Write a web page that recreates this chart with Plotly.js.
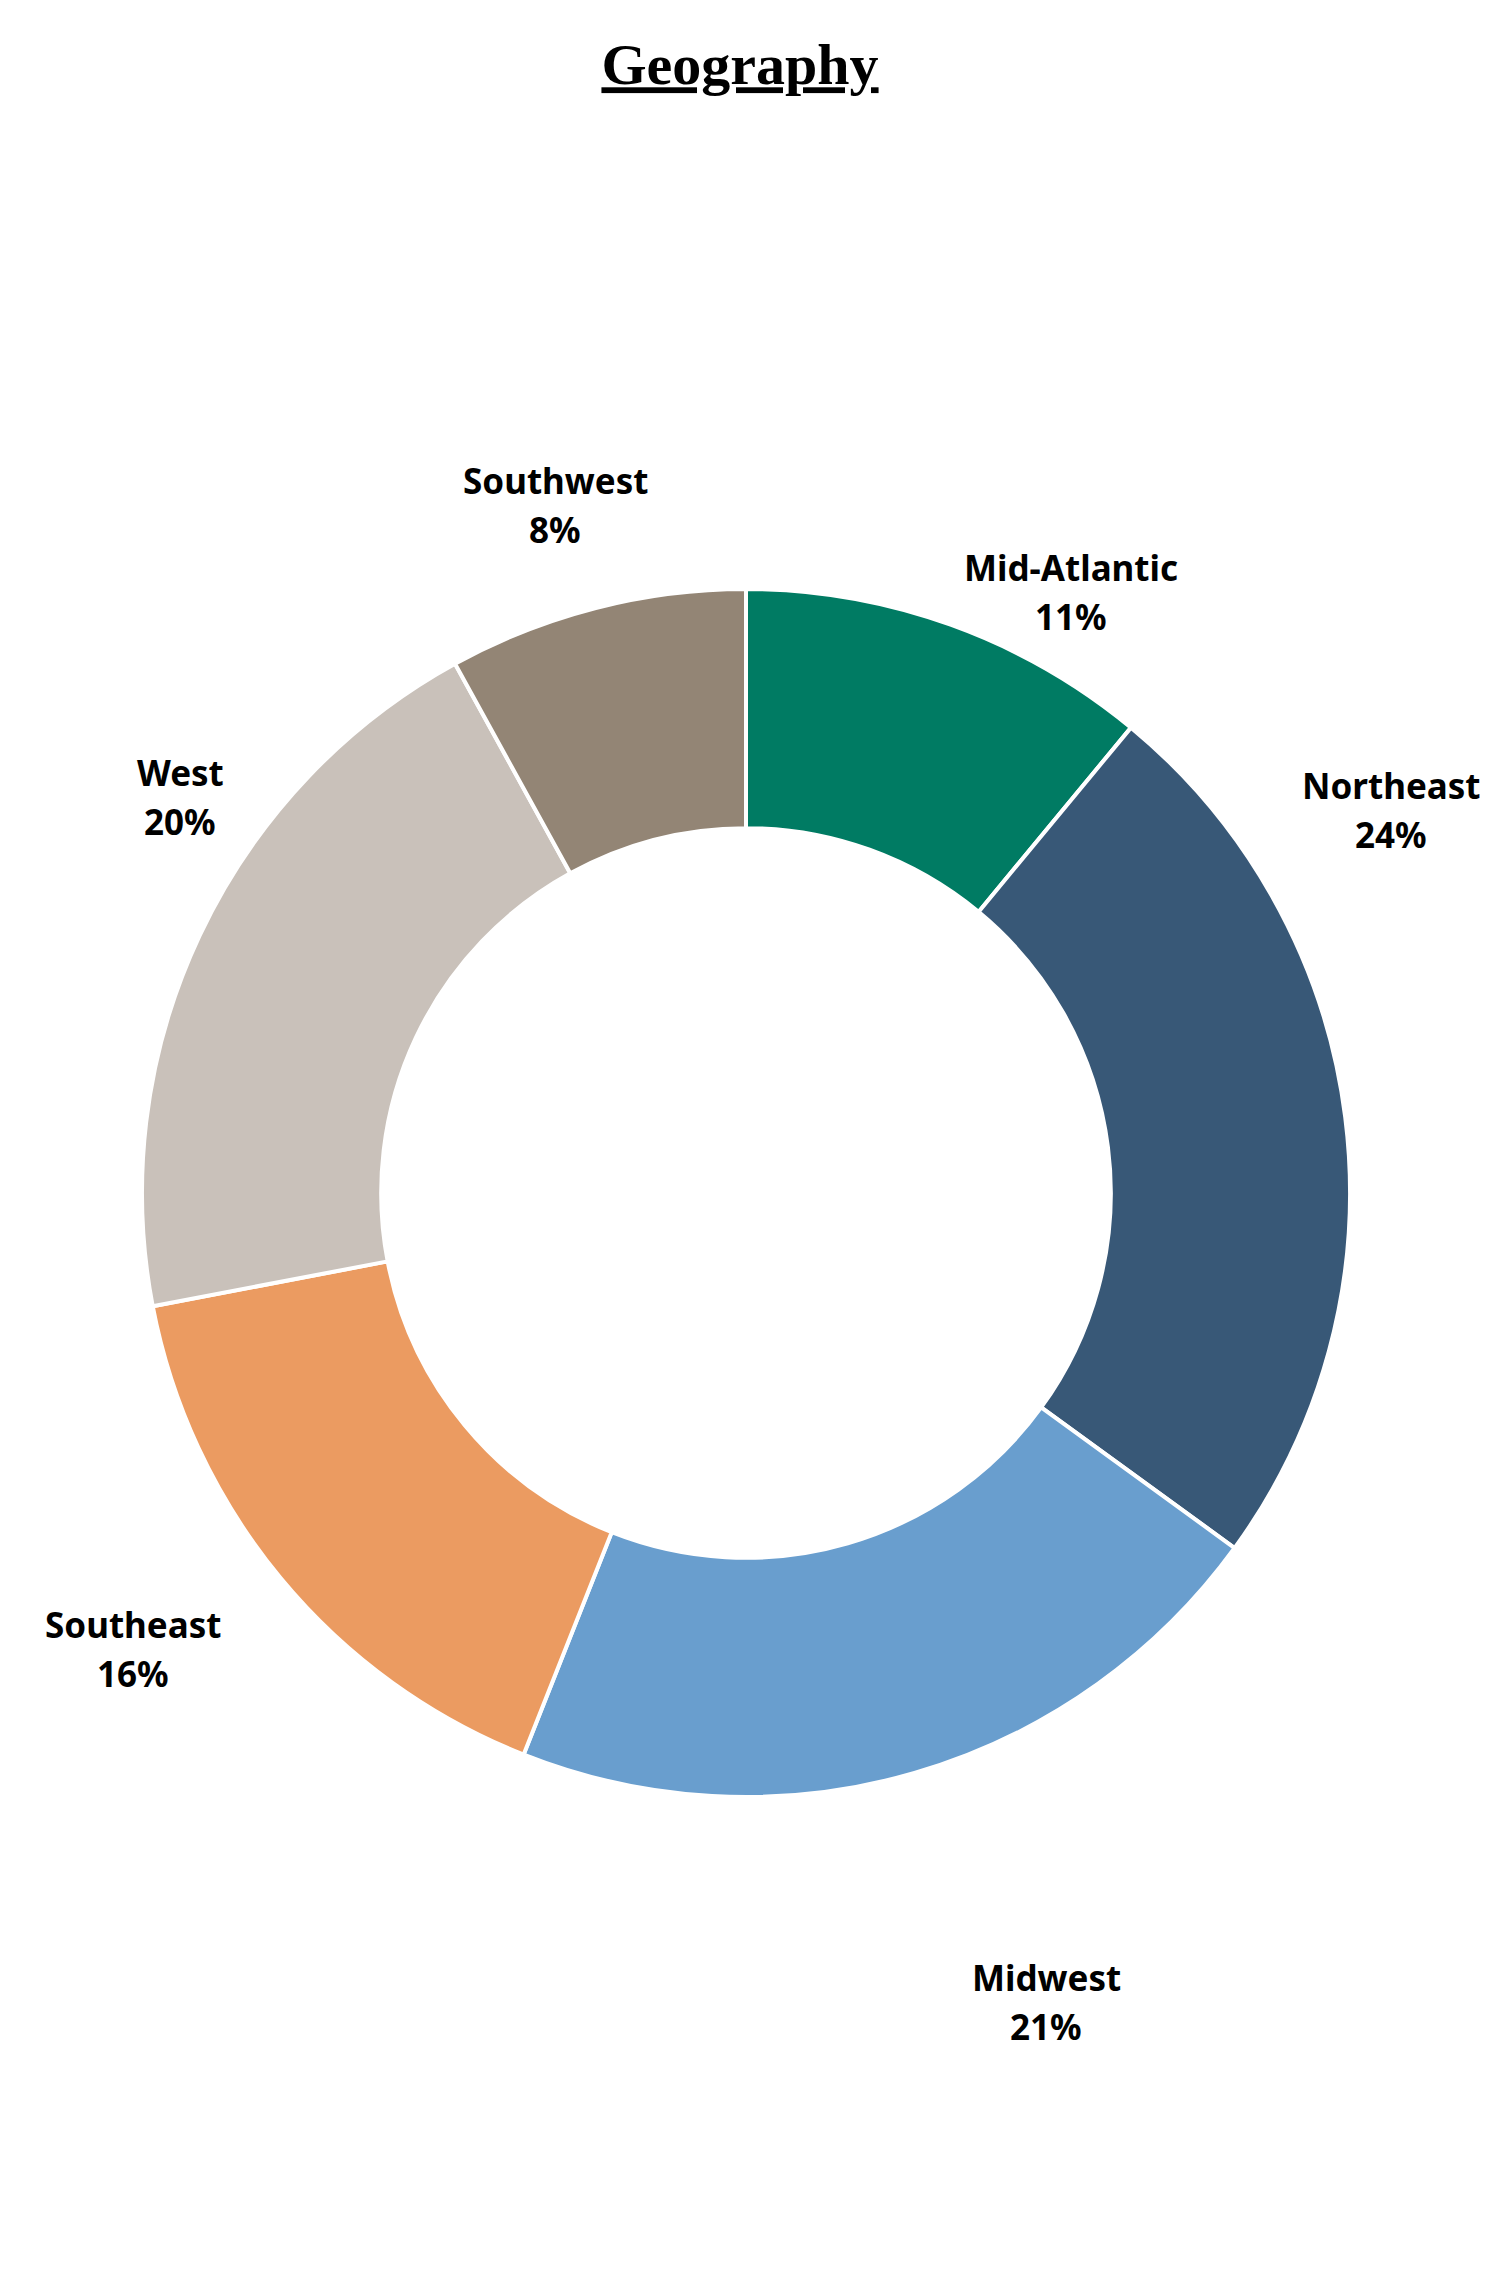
<!DOCTYPE html>
<html>
<head>
<meta charset="utf-8">
<script src="https://cdn.plot.ly/plotly-3.0.1.min.js"></script>
<style>
  html, body { margin: 0; padding: 0; background: #ffffff; }
  #chart { width: 1494px; height: 2282px; }
</style>
</head>
<body>
<div id="chart"></div>
<script>
// ---- data ----
const regions = ["Mid-Atlantic", "Northeast", "Midwest", "Southeast", "West", "Southwest"];
const shares = [11, 24, 21, 16, 20, 8];
const sliceColors = ["#007B63", "#385877", "#699ECE", "#EB9B61", "#C9C1BA", "#938575"];

// ---- layout helpers (label placement in page pixels, centre of each label block) ----
const W = 1494, H = 2282;
const labelSpots = [[1071, 592], [1391, 810], [1046, 2002], [133, 1649], [180, 797], [555, 505]];
const lineGap = 49;

const total = shares.reduce((a, b) => a + b, 0);

const trace = {
  type: "pie",
  labels: regions,
  values: shares,
  sort: false,
  direction: "clockwise",
  rotation: 0,
  hole: 0.604,
  textinfo: "none",
  hoverinfo: "label+percent",
  marker: { colors: sliceColors, line: { color: "#ffffff", width: 4 } },
  domain: { x: [(746 - 604) / W, (746 + 604) / W], y: [(H - 1193 - 604) / H, (H - 1193 + 604) / H] },
  showlegend: false
};

const labelFont = { family: "Noto Sans, Open Sans, sans-serif", size: 35, color: "#000000", weight: "bold" };
const annotations = [];
regions.forEach((r, i) => {
  const pct = Math.round(shares[i] / total * 100) + "%";
  [[r, -lineGap / 2], [pct, lineGap / 2]].forEach(([txt, off]) => {
    annotations.push({
      text: txt,
      x: labelSpots[i][0] / W,
      y: 1 - (labelSpots[i][1] + off) / H,
      xref: "paper", yref: "paper",
      xanchor: "center", yanchor: "middle",
      showarrow: false,
      font: labelFont
    });
  });
});

const layout = {
  width: W, height: H,
  margin: { l: 0, r: 0, t: 0, b: 0 },
  paper_bgcolor: "#ffffff",
  plot_bgcolor: "#ffffff",
  title: {
    text: "<b><u>Geography</u></b>",
    font: { family: "Liberation Serif, Times New Roman, serif", size: 58, color: "#000000", weight: "bold" },
    x: 740 / W, xanchor: "center", xref: "paper",
    y: 1 - 64 / H, yanchor: "middle", yref: "container"
  },
  annotations: annotations
};

Plotly.newPlot("chart", [trace], layout, { staticPlot: true, displayModeBar: false });
</script>
</body>
</html>
